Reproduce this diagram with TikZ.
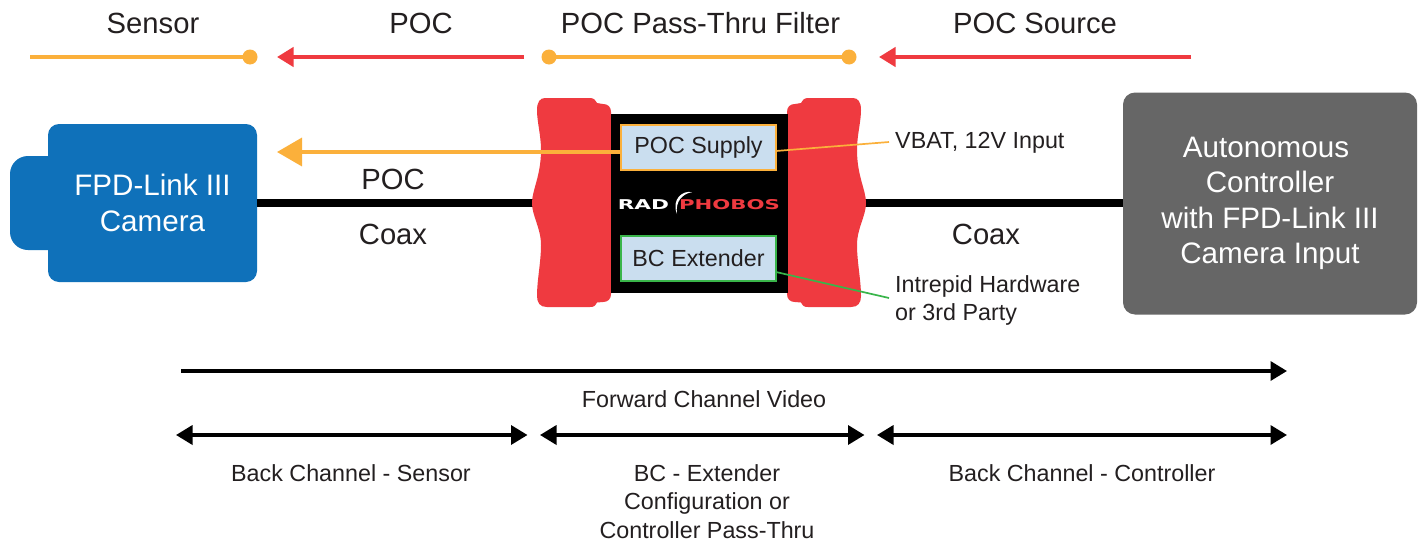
\documentclass[tikz,border=0pt]{standalone}
\usepackage{fontspec}
\usepackage{graphicx}
\setmainfont{Liberation Sans}
\newfontfamily\logofont{DejaVu Sans}
\usetikzlibrary{arrows.meta,calc}
\definecolor{cOrange}{HTML}{FBB03B}
\definecolor{cRed}{HTML}{EF3A40}
\definecolor{cBlue}{HTML}{0F71BA}
\definecolor{cGray}{HTML}{666666}
\definecolor{cPale}{HTML}{CADEEF}
\definecolor{cGreen}{HTML}{39B54A}
\definecolor{cText}{HTML}{231F20}
\newcommand{\connbody}{(545,98) -- (590,98) .. controls (594,98) and (595,100) .. (597,103) -- (603,104)
 .. controls (608,104) and (611,107) .. (611,112) -- (611,294)
 .. controls (611,299) and (608,302) .. (603,302) -- (597,302.5)
 .. controls (595,306) and (594,307) .. (590,307) -- (547,307)
 .. controls (540,307) and (537,303) .. (537,296)
 .. controls (537,280) and (541,262) .. (541,245)
 .. controls (541,228) and (532,216) .. (532,203)
 .. controls (532,190) and (541,176) .. (541,150)
 .. controls (541,135) and (537,122) .. (537,110)
 .. controls (537,102) and (540,98) .. (545,98) -- cycle}
\tikzset{
  big/.style={font=\fontsize{29.2}{35.5}\selectfont,text=cText,inner sep=0pt,anchor=base},
  small/.style={font=\fontsize{23.3}{28.5}\selectfont,text=cText,inner sep=0pt,anchor=base},
  orangeline/.style={draw=cOrange,line width=3.5pt},
  redarrow/.style={draw=cRed,line width=4pt,-{Triangle[length=16.5pt,width=19pt]}},
  blackarrow/.style={draw=black,line width=3.5pt,{Triangle[length=16.5pt,width=19pt]}-{Triangle[length=16.5pt,width=19pt]}},
  dotmark/.style={circle,fill=cOrange,minimum size=15pt,inner sep=0pt,outer sep=0pt},
  innerbox/.style={fill=cPale,draw=#1,line width=2pt,minimum width=155pt,minimum height=45pt,inner sep=0pt,outer sep=0pt},
  solidbox/.style={inner sep=0pt,outer sep=0pt,text=white,align=center,font=\fontsize{29.6}{35.5}\selectfont}
}
\begin{document}
\begin{tikzpicture}[x=1pt,y=-1pt]
\useasboundingbox[fill=white] (0,0) rectangle (1422,541);
% top labels
\node[big] (tSensor) at (153,33) {Sensor};
\node[big] (tPoc) at (421,33) {POC};
\node[big] (tFilter) at (700.5,33) {POC Pass-Thru Filter};
\node[big] (tSource) at (1035,33) {POC Source};
% top lines
\coordinate (a0) at (30,57);
\node[dotmark] (d1) at (250,57) {};
\coordinate (r1s) at (524,57);
\coordinate (r1e) at (277,57);
\node[dotmark] (d2) at (549,57) {};
\node[dotmark] (d3) at (849,57) {};
\coordinate (r2s) at (1191,57);
\coordinate (r2e) at (879,57);
\draw[orangeline] (a0) -- (d1.center);
\draw[redarrow] (r1s) -- (r1e);
\draw[orangeline] (d2.center) -- (d3.center);
\draw[redarrow] (r2s) -- (r2e);
% coax anchors
\coordinate (lred) at (533,203);
\coordinate (rred) at (865,203);
% camera
\node[fill=cBlue,rounded corners=18pt,minimum width=80pt,minimum height=94pt,inner sep=0pt] (nose) at (50,203) {};
\node[solidbox,fill=cBlue,rounded corners=11pt,minimum width=209pt,minimum height=158pt] (cam) at (152.5,203) {FPD-Link III\\Camera};
% controller
\node[solidbox,fill=cGray,rounded corners=12pt,minimum width=294pt,minimum height=222pt] (ctrl) at (1270,203.5) {\mbox{Autonomous\hspace{8pt}}\\Controller\\with FPD-Link III\\Camera Input};
\draw[black,line width=8pt] (cam.east) -- (lred);
\draw[black,line width=8pt] (rred) -- (ctrl.west |- rred);
% filter
\fill[cRed] \connbody;
\begin{scope}[xshift=1398pt,xscale=-1]
\fill[cRed] \connbody;
\end{scope}
\node[fill=black,minimum width=177pt,minimum height=179pt,inner sep=0pt,outer sep=0pt] (filter) at (699.5,203.5) {};
\node[innerbox=cOrange,text=cText,font=\fontsize{23.3}{28}\selectfont] (supply) at (698.5,147.5) {\raisebox{-0.7pt}{POC Supply}};
\node[innerbox=cGreen,text=cText,font=\fontsize{23.3}{28}\selectfont] (bcx) at (698.5,258.5) {\raisebox{-0.7pt}{BC Extender}};
% logo
\node[inner sep=0pt,anchor=base,text=white,font=\logofont\bfseries\fontsize{13.5}{16}\selectfont] (logoA) at (643.5,209) {\scalebox{1.6}[1]{RAD}};
\node[inner sep=0pt,anchor=base,text=cRed,font=\logofont\bfseries\fontsize{13.5}{16}\selectfont] (logoB) at (729.5,209) {\scalebox{1.57}[1]{PHOBOS}};
\fill[white] (692,192.2) .. controls (683,190) and (671,199) .. (677,214) .. controls (675,201) and (683,193.5) .. (692,192.2) -- cycle;
% POC arrow
\coordinate (campoc) at (277,152);
\draw[draw=cOrange,line width=3.5pt,-{Triangle[length=25pt,width=28pt]}] (supply.west |- 0,152) -- (campoc);
% labels centre
\node[big] (lPoc) at (393,189) {POC};
\node[big] (lCoax) at (393,244) {Coax};
\node[big] (rCoax) at (986,244) {Coax};
% side labels
\node[small,anchor=base west] (vbat) at (895,148) {VBAT, 12V Input};
\node[small,anchor=base west] (intr) at (895,292) {Intrepid Hardware};
\node[small,anchor=base west] (third) at (895,320) {or 3rd Party};
\coordinate (vbatend) at (889,142);
\coordinate (intrend) at (889,298);
\draw[cOrange,line width=1.7pt] (supply.east |- 0,151) -- (vbatend);
\draw[cGreen,line width=1.7pt] (bcx.east |- 0,272) -- (intrend);
% bottom arrows
\coordinate (f1) at (181,371);
\coordinate (f2) at (1287,371);
\draw[draw=black,line width=3.5pt,-{Triangle[length=16.5pt,width=19pt]}] (f1) -- (f2);
\node[small] (fwd) at (704,407) {Forward Channel Video};
\coordinate (b1) at (176,435);
\coordinate (b2) at (527.5,435);
\coordinate (b3) at (540,435);
\coordinate (b4) at (864.5,435);
\coordinate (b5) at (877,435);
\coordinate (b6) at (1287,435);
\draw[blackarrow] (b1) -- (b2);
\draw[blackarrow] (b3) -- (b4);
\draw[blackarrow] (b5) -- (b6);
\node[small] (bs) at (351,481) {Back Channel - Sensor};
\node[small] (be1) at (707,481) {BC - Extender};
\node[small] (be2) at (707,509.5) {Configuration or};
\node[small] (be3) at (707,538) {Controller Pass-Thru};
\node[small] (bc) at (1082,481) {Back Channel - Controller};
\end{tikzpicture}
\end{document}
